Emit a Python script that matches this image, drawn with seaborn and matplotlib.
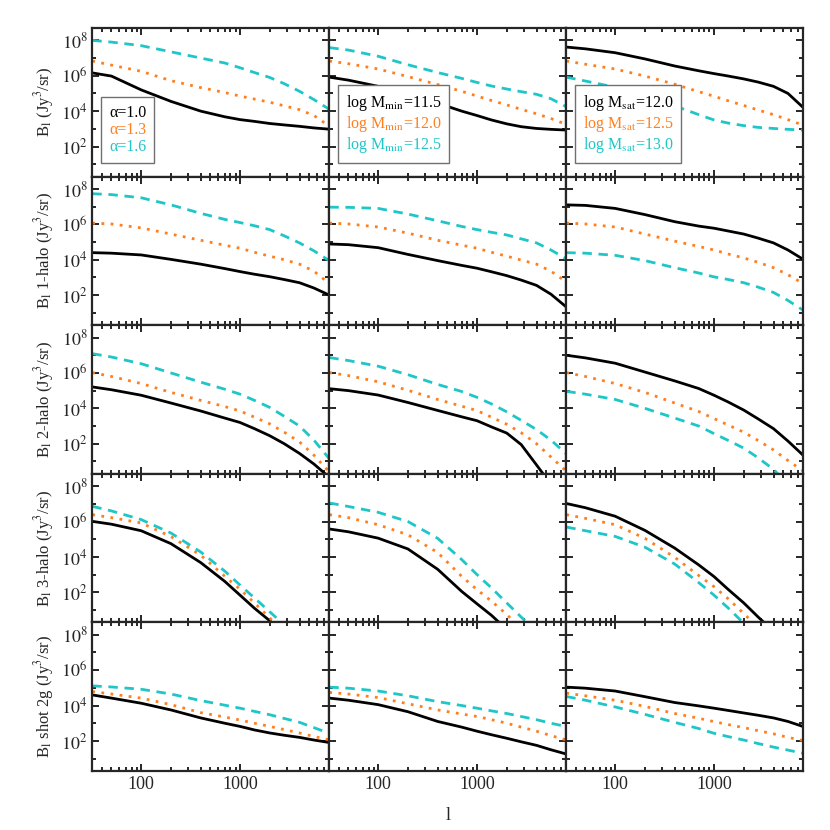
import numpy as np
import matplotlib
matplotlib.use('Agg')
import matplotlib.pyplot as plt
from matplotlib.lines import Line2D
from matplotlib.ticker import FixedLocator, FuncFormatter, LogLocator, NullFormatter
import seaborn as sns

# multipole grid shared by all panels
ell = [32, 50, 100, 200, 400, 700, 1000, 1400, 2000, 2800, 4000, 5600, 8000]

# log10 of B_l, three series per panel: [black, orange, cyan]
total_alpha = [[6.16, 5.98, 5.20, 4.55, 4.00, 3.68, 3.52, 3.42, 3.30, 3.22, 3.14, 3.05, 2.98],
               [6.83, 6.60, 6.25, 5.72, 5.33, 5.05, 4.85, 4.68, 4.50, 4.30, 4.08, 3.75, 3.15],
               [8.00, 7.90, 7.70, 7.35, 7.00, 6.72, 6.45, 6.18, 5.90, 5.55, 5.12, 4.65, 4.10]]
total_mmin = [[5.92, 5.75, 5.40, 4.92, 4.45, 4.00, 3.75, 3.50, 3.28, 3.12, 3.02, 2.97, 2.93],
              [6.83, 6.68, 6.38, 5.95, 5.50, 5.12, 4.85, 4.60, 4.35, 4.10, 3.85, 3.58, 3.25],
              [7.59, 7.45, 7.10, 6.62, 6.18, 5.85, 5.62, 5.42, 5.25, 5.10, 4.95, 4.70, 4.25]]
total_msat = [[7.62, 7.52, 7.30, 6.95, 6.55, 6.28, 6.12, 5.98, 5.82, 5.64, 5.40, 5.00, 4.20],
              [6.83, 6.65, 6.38, 5.98, 5.52, 5.10, 4.84, 4.58, 4.32, 4.06, 3.80, 3.52, 3.20],
              [5.92, 5.70, 5.35, 4.86, 4.30, 3.80, 3.50, 3.32, 3.18, 3.08, 3.02, 2.97, 2.93]]

onehalo_alpha = [[4.40, 4.37, 4.27, 4.02, 3.75, 3.50, 3.33, 3.18, 3.04, 2.88, 2.70, 2.40, 2.00],
                 [6.07, 6.02, 5.80, 5.45, 5.10, 4.82, 4.65, 4.42, 4.20, 4.00, 3.75, 3.35, 2.65],
                 [7.73, 7.68, 7.50, 7.10, 6.62, 6.28, 6.10, 5.92, 5.70, 5.35, 4.95, 4.50, 3.95]]
onehalo_mmin = [[4.89, 4.85, 4.68, 4.30, 3.95, 3.68, 3.52, 3.32, 3.10, 2.85, 2.55, 2.05, 1.33],
                [6.07, 6.02, 5.85, 5.50, 5.10, 4.82, 4.65, 4.42, 4.20, 3.98, 3.75, 3.35, 2.75],
                [6.97, 6.96, 6.90, 6.58, 6.20, 5.88, 5.70, 5.55, 5.40, 5.18, 4.95, 4.55, 4.05]]
onehalo_msat = [[7.10, 7.07, 6.90, 6.55, 6.15, 5.90, 5.78, 5.62, 5.45, 5.22, 4.95, 4.55, 4.02],
                [6.07, 6.02, 5.85, 5.45, 5.05, 4.75, 4.55, 4.32, 4.10, 3.85, 3.55, 3.15, 2.65],
                [4.40, 4.37, 4.25, 3.95, 3.55, 3.25, 3.03, 2.88, 2.70, 2.45, 2.15, 1.70, 1.14]]

twohalo_alpha = [[5.21, 5.05, 4.74, 4.30, 3.85, 3.45, 3.20, 2.85, 2.45, 2.00, 1.45, 0.85, 0.10],
                 [6.02, 5.80, 5.40, 4.90, 4.45, 4.10, 3.85, 3.50, 3.12, 2.65, 2.10, 1.35, 0.40],
                 [7.09, 6.90, 6.52, 6.00, 5.48, 5.08, 4.80, 4.45, 4.05, 3.55, 3.00, 2.20, 1.15]]
twohalo_mmin = [[5.11, 5.00, 4.75, 4.33, 3.88, 3.52, 3.30, 2.95, 2.60, 1.95, 0.80, -0.30, -1.50],
                [6.02, 5.85, 5.50, 5.02, 4.50, 4.12, 3.87, 3.50, 3.10, 2.62, 2.00, 1.25, 0.45],
                [6.87, 6.70, 6.38, 5.90, 5.35, 4.95, 4.62, 4.25, 3.80, 3.32, 2.80, 2.20, 1.43]]
twohalo_msat = [[7.00, 6.85, 6.55, 6.05, 5.55, 5.12, 4.74, 4.35, 3.90, 3.40, 2.85, 2.15, 1.34],
                [6.02, 5.80, 5.40, 4.90, 4.30, 3.82, 3.42, 3.05, 2.65, 2.18, 1.65, 1.05, 0.45],
                [4.96, 4.80, 4.50, 4.00, 3.45, 3.00, 2.57, 2.18, 1.75, 1.20, 0.55, -0.30, -1.50]]

threehalo_alpha = [[6.01, 5.85, 5.48, 4.75, 3.68, 2.62, 1.84, 1.10, 0.39, -0.30, -1.0, -1.7, -2.4],
                   [6.39, 6.22, 5.92, 5.15, 4.10, 2.91, 2.17, 1.40, 0.55, -0.30, -1.1, -1.9, -2.7],
                   [6.86, 6.60, 6.11, 5.35, 4.28, 3.20, 2.41, 1.68, 0.90, 0.15, -0.65, -1.45, -2.25]]
threehalo_mmin = [[5.58, 5.42, 5.06, 4.45, 3.30, 2.05, 1.35, 0.70, -0.10, -0.90, -1.7, -2.5, -3.3],
                  [6.39, 6.22, 5.82, 5.25, 4.25, 2.90, 2.15, 1.50, 0.75, -0.10, -0.9, -1.7, -2.5],
                  [7.05, 6.85, 6.52, 6.00, 5.05, 3.85, 3.00, 2.25, 1.40, 0.60, -0.2, -1.0, -1.8]]
threehalo_msat = [[7.02, 6.78, 6.30, 5.50, 4.50, 3.55, 2.89, 2.15, 1.40, 0.60, -0.2, -1.0, -1.8],
                  [6.39, 6.18, 5.82, 5.05, 3.98, 2.95, 2.32, 1.62, 0.80, 0.00, -0.8, -1.6, -2.4],
                  [5.69, 5.48, 5.16, 4.55, 3.60, 2.55, 1.84, 1.10, 0.25, -0.60, -1.4, -2.2, -3.0]]

shot_alpha = [[4.60, 4.42, 4.13, 3.75, 3.30, 3.00, 2.82, 2.62, 2.45, 2.32, 2.20, 2.05, 1.91],
              [4.79, 4.65, 4.42, 4.05, 3.60, 3.35, 3.18, 3.00, 2.82, 2.64, 2.45, 2.25, 2.06],
              [5.11, 5.05, 4.92, 4.65, 4.28, 4.02, 3.85, 3.67, 3.48, 3.27, 3.05, 2.75, 2.43]]
shot_mmin = [[4.42, 4.30, 4.05, 3.65, 3.10, 2.78, 2.55, 2.35, 2.15, 1.95, 1.75, 1.50, 1.26],
             [4.74, 4.65, 4.45, 4.10, 3.75, 3.52, 3.38, 3.20, 3.00, 2.78, 2.55, 2.30, 2.06],
             [5.04, 4.98, 4.82, 4.55, 4.22, 4.00, 3.85, 3.70, 3.55, 3.38, 3.20, 3.00, 2.81]]
shot_msat = [[5.04, 4.98, 4.82, 4.50, 4.17, 3.98, 3.85, 3.72, 3.58, 3.45, 3.30, 3.10, 2.81],
             [4.70, 4.55, 4.30, 3.95, 3.55, 3.28, 3.09, 2.92, 2.75, 2.58, 2.40, 2.20, 2.02],
             [4.51, 4.30, 3.92, 3.50, 3.05, 2.70, 2.43, 2.24, 2.05, 1.85, 1.65, 1.48, 1.30]]

row_labels = [r'B$_{\rm l}$ (Jy$^3$/sr)',
              r'B$_{\rm l}$ 1-halo (Jy$^3$/sr)',
              r'B$_{\rm l}$ 2-halo (Jy$^3$/sr)',
              r'B$_{\rm l}$ 3-halo (Jy$^3$/sr)',
              r'B$_{\rm l}$ shot 2g (Jy$^3$/sr)']
legend_labels = [['α=1.0', 'α=1.3', 'α=1.6'],
                 [r'log M$_{\rm min}$=11.5', r'log M$_{\rm min}$=12.0', r'log M$_{\rm min}$=12.5'],
                 [r'log M$_{\rm sat}$=12.0', r'log M$_{\rm sat}$=12.5', r'log M$_{\rm sat}$=13.0']]

panels = [[total_alpha, total_mmin, total_msat],
          [onehalo_alpha, onehalo_mmin, onehalo_msat],
          [twohalo_alpha, twohalo_mmin, twohalo_msat],
          [threehalo_alpha, threehalo_mmin, threehalo_msat],
          [shot_alpha, shot_mmin, shot_msat]]

colors = ['black', '#ff7f1e', '#1fc6c8']
dash_patterns = [None, (1.0, 2.3), (3.4, 2.4)]

sns.set_style('ticks')
plt.rcParams['font.family'] = ['Liberation Serif', 'DejaVu Serif']
plt.rcParams['mathtext.fontset'] = 'stix'

fig, axes = plt.subplots(5, 3, figsize=(8.3, 8.3), dpi=100, sharex=True, sharey=True)
fig.subplots_adjust(left=0.1112, right=0.9678, top=0.9663, bottom=0.0711,
                    hspace=0, wspace=0)

for r, row in enumerate(panels):
    for c, series in enumerate(row):
        ax = axes[r, c]
        ax.set_xscale('log')
        ax.set_yscale('log')
        for k, vals in enumerate(series):
            sns.lineplot(x=ell, y=10 ** np.array(vals), ax=ax, color=colors[k],
                         linewidth=2.0, legend=False)
            line = ax.lines[-1]
            if dash_patterns[k] is not None:
                line.set_dashes(dash_patterns[k])
        ax.set_xlim(32, 8000)
        ax.set_ylim(2, 5e8)
        ax.yaxis.set_major_locator(FixedLocator([1e2, 1e4, 1e6, 1e8]))
        ax.yaxis.set_minor_locator(FixedLocator([1e1, 1e3, 1e5, 1e7]))
        ax.yaxis.set_major_formatter(FuncFormatter(lambda v, p: r'$10^{%d}$' % round(np.log10(v))))
        ax.yaxis.set_minor_formatter(NullFormatter())
        ax.xaxis.set_major_locator(FixedLocator([100, 1000]))
        ax.xaxis.set_minor_locator(LogLocator(base=10, subs=np.arange(2, 10)))
        ax.xaxis.set_major_formatter(FuncFormatter(lambda v, p: '%d' % v))
        ax.xaxis.set_minor_formatter(NullFormatter())
        ax.tick_params(which='both', direction='in', top=True, right=True,
                       width=1.4, labelsize=13)
        ax.tick_params(which='major', length=5)
        ax.tick_params(which='minor', length=3)
        for sp in ax.spines.values():
            sp.set_linewidth(1.6)
        ax.set_xlabel('')
        ax.set_ylabel('')
        if c == 0:
            ax.set_ylabel(row_labels[r], fontsize=12, labelpad=4)
        if r == 0:
            handles = [Line2D([], [], linestyle='none') for _ in range(3)]
            leg = ax.legend(handles, legend_labels[c], labelcolor=colors,
                            handlelength=0, handletextpad=0, fontsize=11.5,
                            loc='lower left', bbox_to_anchor=(0.037, 0.092),
                            borderaxespad=0, fancybox=False, framealpha=1,
                            edgecolor='#707070', labelspacing=0.05,
                            borderpad=0.5)
            leg.get_frame().set_linewidth(1.0)

axes[4, 1].set_xlabel('l', fontsize=13, labelpad=10)

fig.savefig('out.png', dpi=100)
